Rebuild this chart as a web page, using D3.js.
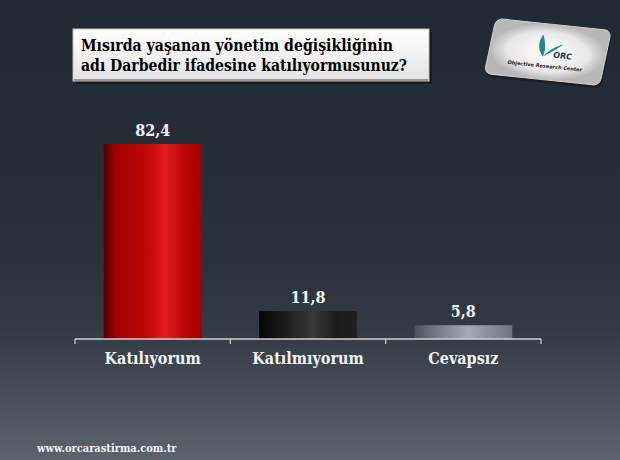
<!DOCTYPE html>
<html><head><meta charset="utf-8">
<script src="https://cdn.jsdelivr.net/npm/d3@7/dist/d3.min.js"></script>
<style>html,body{margin:0;padding:0;background:#222a33;}svg{display:block;}</style>
</head><body><div id="chart"></div>
<script>
const categories = ["Katılıyorum", "Katılmıyorum", "Cevapsız"];
const values = [82.4, 11.8, 5.8];
const valueLabels = ["82,4", "11,8", "5,8"];
const titleLines = ["Mısırda yaşanan yönetim değişikliğinin", "adı Darbedir ifadesine katılıyormusunuz?"];
const footerText = "www.orcarastirma.com.tr";

const W = 620, H = 460;
const FONT = "'DejaVu Serif Condensed','DejaVu Serif',serif";
const svg = d3.select("#chart").append("svg").attr("width", W).attr("height", H);
const defs = svg.append("defs");

// background gradient
const bg = defs.append("linearGradient").attr("id","bg").attr("x1",0).attr("y1",0).attr("x2",0).attr("y2",1);
[[0,"#212932"],[0.55,"#29303a"],[0.72,"#333a44"],[1,"#5c636c"]].forEach(s=>bg.append("stop").attr("offset",s[0]).attr("stop-color",s[1]));
svg.append("rect").attr("width",W).attr("height",H).attr("fill","url(#bg)");

// bar gradients
const grads = [
  [[0,"#4a0000"],[0.12,"#a00000"],[0.45,"#c40606"],[0.62,"#e01c1c"],[0.85,"#b80404"],[1,"#a00000"]],
  [[0,"#050505"],[0.2,"#151515"],[0.55,"#383838"],[0.8,"#1a1a1a"],[1,"#202020"]],
  [[0,"#4a5058"],[0.2,"#707782"],[0.55,"#a2aab6"],[0.8,"#858c97"],[1,"#6f7680"]]
];
grads.forEach((g,i)=>{
  const lg = defs.append("linearGradient").attr("id","bar"+i).attr("x1",0).attr("y1",0).attr("x2",1).attr("y2",0);
  g.forEach(s=>lg.append("stop").attr("offset",s[0]).attr("stop-color",s[1]));
});

const x = d3.scaleBand().domain(categories).range([75, 541]).paddingInner(0.37).paddingOuter(0.185);
const y = d3.scaleLinear().domain([0, 82.4]).range([339, 144]);

svg.selectAll("rect.bar").data(values).enter().append("rect")
  .attr("class","bar")
  .attr("x",(d,i)=>x(categories[i]))
  .attr("width",x.bandwidth())
  .attr("y",d=>y(d))
  .attr("height",d=>y(0)-y(d))
  .attr("fill",(d,i)=>"url(#bar"+i+")");

svg.selectAll("text.val").data(values).enter().append("text")
  .attr("x",(d,i)=>x(categories[i])+x.bandwidth()/2)
  .attr("y",d=>y(d)-8)
  .attr("text-anchor","middle")
  .attr("font-family",FONT).attr("font-weight","bold").attr("font-size",16)
  .attr("fill","#f2f2f2")
  .text((d,i)=>valueLabels[i]);

// axis
const axisScale = d3.scalePoint().domain([0,1,2,3]).range([75,541]);
const ax = svg.append("g").attr("transform","translate(0,339)");
ax.append("line").attr("x1",75).attr("x2",541).attr("stroke","#d0d0d0").attr("stroke-width",1.3);
ax.selectAll("line.tick").data([0,1,2,3]).enter().append("line")
  .attr("x1",d=>axisScale(d)).attr("x2",d=>axisScale(d)).attr("y1",0).attr("y2",5)
  .attr("stroke","#d0d0d0").attr("stroke-width",1.2);
ax.selectAll("text").data(categories).enter().append("text")
  .attr("x",d=>x(d)+x.bandwidth()/2).attr("y",25)
  .attr("text-anchor","middle")
  .attr("font-family",FONT).attr("font-weight","bold").attr("font-size",16)
  .attr("fill","#f2f2f2").text(d=>d);

// title box
const tg = defs.append("linearGradient").attr("id","tbox").attr("x1",0).attr("y1",0).attr("x2",0).attr("y2",1);
[[0,"#ffffff"],[1,"#e4e4e4"]].forEach(s=>tg.append("stop").attr("offset",s[0]).attr("stop-color",s[1]));
svg.append("rect").attr("x",76).attr("y",32).attr("width",356).attr("height",52).attr("fill","#0f1318").attr("opacity",0.6);
svg.append("rect").attr("x",73).attr("y",29).attr("width",356).attr("height",52).attr("fill","url(#tbox)").attr("stroke","#bdbdbd").attr("stroke-width",1);
svg.append("line").attr("x1",74).attr("x2",428).attr("y1",80).attr("y2",80).attr("stroke","#999").attr("stroke-width",2);
const titleWidths = [312, 326];
svg.selectAll("text.title").data(titleLines).enter().append("text")
  .attr("x",81).attr("y",(d,i)=>51+i*20)
  .attr("font-family",FONT).attr("font-weight","bold").attr("font-size",17)
  .attr("textLength",(d,i)=>titleWidths[i]).attr("lengthAdjust","spacingAndGlyphs")
  .attr("fill","#000").text(d=>d);

// logo
const lgG = defs.append("radialGradient").attr("id","logo");
[[0,"#ffffff"],[0.7,"#e8e8e8"],[1,"#b8b8b8"]].forEach(s=>lgG.append("stop").attr("offset",s[0]).attr("stop-color",s[1]));
const logo = svg.append("g").attr("transform","translate(548,51) rotate(6) skewX(-6)");
logo.append("rect").attr("x",-58).attr("y",-27).attr("width",116).attr("height",56).attr("rx",7).attr("fill","#111").attr("opacity",0.5).attr("transform","translate(2,3)");
logo.append("rect").attr("x",-58).attr("y",-27).attr("width",116).attr("height",56).attr("rx",7).attr("fill","url(#logo)").attr("stroke","#cfcfcf");
logo.append("path").attr("d","M-8,-16 C-12,-8 -10,0 -4,6 C-2,0 -4,-8 -8,-16 Z M-4,6 C2,-2 8,-6 14,-8 C8,-2 2,2 -4,6 Z").attr("fill","#1f8c8a");
logo.append("text").attr("x",6).attr("y",6).attr("font-family","'DejaVu Sans',sans-serif").attr("font-weight","bold").attr("font-size",8).attr("fill","#1a3a4a").text("ORC");
logo.append("text").attr("x",0).attr("y",17).attr("text-anchor","middle").attr("font-family","'DejaVu Sans',sans-serif").attr("font-weight","bold").attr("font-size",5).attr("fill","#222").text("Objective Research Center");

// footer
svg.append("text").attr("x",37).attr("y",452)
  .attr("font-family",FONT).attr("font-weight","bold").attr("font-size",11)
  .attr("fill","#f2f2f2").text(footerText);
</script></body></html>
